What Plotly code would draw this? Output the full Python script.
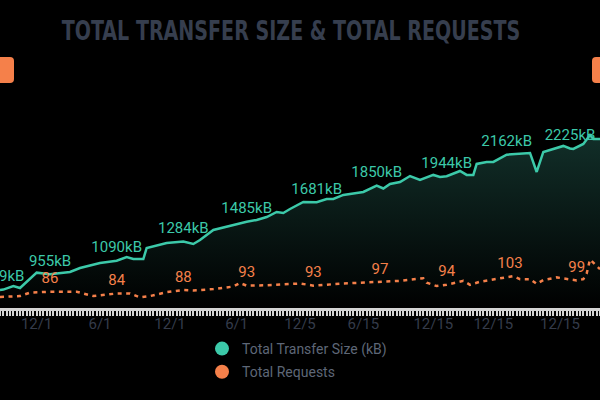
import plotly.graph_objects as go

# ---- data ----
TICK_POS = [11, 30, 51, 71, 90, 109, 130, 148, 168]
TICK_TEXT = ["12/1", "6/1", "12/1", "6/1", "12/5", "6/15", "12/15", "12/15", "12/15"]

SIZE_X = [0, 1, 4, 6, 11, 15, 21, 24, 30, 35, 38, 40, 43, 44, 50, 55, 58, 60, 64, 70,
          74, 77, 80, 83, 85, 87, 91, 95, 98, 100, 103, 107, 109, 113, 115, 117, 120,
          123, 126, 130, 132, 134, 138, 140, 142, 143, 146, 148, 150, 152, 159, 161,
          163, 167, 169, 171, 172, 175, 177, 178, 180]
SIZE_KB = [795, 799, 835, 815, 970, 955, 977, 1017, 1068, 1090, 1128, 1108, 1108, 1219,
           1270, 1284, 1260, 1300, 1401, 1451, 1485, 1502, 1532, 1583, 1573, 1613, 1684,
           1681, 1714, 1714, 1755, 1775, 1785, 1850, 1820, 1866, 1886, 1946, 1906, 1957,
           1936, 1944, 1997, 1957, 1957, 2068, 2088, 2088, 2128, 2162, 2179, 1987, 2189,
           2229, 2250, 2225, 2220, 2270, 2360, 2320, 2320]
SIZE_LABEL_AT = [1, 15, 35, 55, 74, 95, 113, 134, 152, 171]

REQ_X = [0, 6, 9, 15, 23, 28, 35, 39, 42, 45, 50, 55, 58, 64, 70, 72, 74, 80, 90, 94,
         103, 114, 120, 127, 128, 131, 134, 139, 141, 144, 153, 154, 156, 159, 161, 163,
         167, 173, 175, 176, 177, 178, 180]
REQUESTS = [80, 81, 85, 86, 86, 81, 84, 84, 79.5, 81, 85.5, 88, 87.5, 89, 92, 96, 93,
            93.5, 95.5, 93, 95.5, 97, 98.5, 101.5, 96.5, 92.5, 94, 98.5, 94, 97.5, 103,
            104, 100.5, 100.5, 95, 99.5, 102.5, 99, 100.5, 107, 123, 119, 112]
REQ_LABEL_AT = [15, 35, 55, 74, 94, 114, 134, 153, 173]

TEAL = "#3cc9a9"
ORANGE = "#f5804a"

size_text = [f"{v}kB" if x in SIZE_LABEL_AT else "" for x, v in zip(SIZE_X, SIZE_KB)]
req_text = [f"{v:g}" if x in REQ_LABEL_AT else "" for x, v in zip(REQ_X, REQUESTS)]

fig = go.Figure()
fig.add_trace(go.Scatter(
    x=SIZE_X, y=SIZE_KB, mode="lines+markers+text", text=size_text,
    textposition="top center", textfont=dict(family="Roboto", size=15, color=TEAL),
    marker=dict(size=6, opacity=0),
    line=dict(color=TEAL, width=2.5), fill="tozeroy",
    fillgradient=dict(type="vertical", start=600, stop=2400,
                      colorscale=[[0, "rgb(0,0,0)"], [1, "rgb(18,48,42)"]]),
    showlegend=False, hoverinfo="skip"))
fig.add_trace(go.Scatter(
    x=REQ_X, y=REQUESTS, yaxis="y2", mode="lines+markers+text", text=req_text,
    textposition="top center", textfont=dict(family="Roboto", size=15, color=ORANGE),
    marker=dict(size=6, opacity=0),
    line=dict(color=ORANGE, width=2.5, dash="4px,4.5px"), showlegend=False,
    hoverinfo="skip"))

# legend entries
fig.add_trace(go.Scatter(x=[None], y=[None], mode="markers", name="Total Transfer Size (kB)",
                         marker=dict(color=TEAL, size=14), legendgroup="a"))
fig.add_trace(go.Scatter(x=[None], y=[None], mode="markers", name="Total Requests",
                         marker=dict(color=ORANGE, size=14), legendgroup="b"))

T, B = 90, 308
def py(p):
    return (B - p) / (B - T)

shapes = []
for (x0, x1) in [(-20, 14), (592, 630)]:
    X0, X1 = x0 / 600, x1 / 600
    Y0, Y1 = py(57), py(83)
    rx = 4 / 600
    ry = 4 / (B - T)
    path = (f"M{X0+rx},{Y0} L{X1-rx},{Y0} Q{X1},{Y0} {X1},{Y0-ry} L{X1},{Y1+ry} "
            f"Q{X1},{Y1} {X1-rx},{Y1} L{X0+rx},{Y1} Q{X0},{Y1} {X0},{Y1+ry} "
            f"L{X0},{Y0-ry} Q{X0},{Y0} {X0+rx},{Y0} Z")
    shapes.append(dict(type="path", xref="paper", yref="paper", path=path,
                       fillcolor=ORANGE, line=dict(width=0)))

fig.update_layout(
    width=600, height=400,
    paper_bgcolor="#000000", plot_bgcolor="#000000",
    margin=dict(l=0, r=0, t=T, b=400 - B),
    title=dict(text="<b>TOTAL TRANSFER SIZE &amp; TOTAL REQUESTS</b>",
               font=dict(family="DejaVu Sans Condensed, DejaVu Sans, sans-serif",
                         size=26, color="#363e4e"),
               x=291 / 600, xanchor="center", y=1 - 31 / 400, yanchor="middle",
               xref="paper", yref="container"),
    xaxis=dict(range=[0, 180], tickmode="array", tickvals=TICK_POS, ticktext=TICK_TEXT,
               ticks="outside", ticklen=5, tickwidth=1.5, tickcolor="#d4d4d4",
               showline=True, linecolor="#d4d4d4", linewidth=3, showgrid=False,
               zeroline=False, ticklabelstandoff=-5,
               tickfont=dict(family="Roboto", size=15, color="#343b4a"),
               minor=dict(tickmode="linear", tick0=0, dtick=1, ticks="outside",
                          ticklen=5, tickwidth=1.5, tickcolor="#d4d4d4", showgrid=False)),
    yaxis=dict(range=[613, 2815], visible=False),
    yaxis2=dict(range=[67.3, 318], visible=False, overlaying="y"),
    legend=dict(x=202 / 600, xanchor="left", y=py(333), yanchor="top",
                font=dict(family="Roboto", size=14, color="#5e6777"),
                bgcolor="rgba(0,0,0,0)", traceorder="grouped", tracegroupgap=2),
    shapes=shapes,
)

post = """
document.documentElement.style.background='#000';
document.body.style.margin='0';
document.body.style.background='#000';
document.body.style.overflow='hidden';
var t=document.querySelector('.gtitle');
if(t){t.style.transformBox='fill-box';t.style.transformOrigin='center';t.style.transform='scaleX(0.816)';}
"""
fig.write_html("out.html", config={"displayModeBar": False}, post_script=post)
